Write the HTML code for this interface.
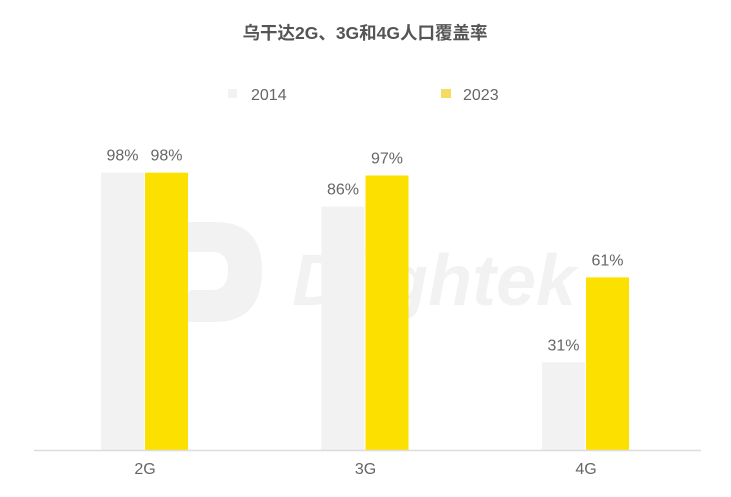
<!DOCTYPE html>
<html><head><meta charset="utf-8"><style>
html,body{margin:0;padding:0;background:#fff;}
body{width:731px;height:492px;overflow:hidden;font-family:"Liberation Sans","Noto Sans CJK SC",sans-serif;}
</style></head><body>
<svg id="chart" width="731" height="492" xmlns="http://www.w3.org/2000/svg">
<text x="365" y="39" text-anchor="middle" font-size="17.5" font-weight="bold" fill="#555" font-family="Liberation Sans, Noto Sans CJK SC, sans-serif">乌干达2G、3G和4G人口覆盖率</text>
<g>
<rect x="228" y="89" width="9" height="9" fill="#f2f2f2"/>
<text x="251" y="100" font-size="16" fill="#666">2014</text>
<rect x="441" y="89" width="10" height="9" fill="#f5dc60"/>
<text x="463" y="100" font-size="16" fill="#666">2023</text>
</g>
<g fill="#000" fill-opacity="0.05">
<path d="M150 222 L215 222 Q262 222 262 270 Q262 322 215 322 L175 322 L190 290 L212 290 Q228 290 228 270 Q228 252 212 252 L165 252 Z"/>
<text x="292" y="305" font-size="72" font-weight="bold" font-style="italic">Dlightek</text>
</g>
<g id="bars"></g>
<line x1="34" y1="450.5" x2="701" y2="450.5" stroke="#dcdcdc" stroke-width="1.5"/>
</svg>
<script>
const categories = ["2G","3G","4G"];
const series2014 = [98,86,31];
const series2023 = [98,97,61];
const ns="http://www.w3.org/2000/svg";
const base=450, scale=2.83, x0=145, step=220.5, bw=43;
const y=v=>base-v*scale;
const g=document.getElementById('bars');
function mk(tag,attrs){const e=document.createElementNS(ns,tag);for(const k in attrs)e.setAttribute(k,attrs[k]);g.appendChild(e);return e;}
categories.forEach((c,i)=>{
  const cx=x0+i*step;
  [[series2014,'#f2f2f2',cx-bw-1,'2014'],[series2023,'#fbe000',cx,'2023']].forEach(([s,col,x,yr])=>{
    const v=s[i];
    const r=mk('rect',{x:x,y:y(v),width:bw,height:base-y(v),fill:col});
    
    
    const t=mk('text',{x:x+bw/2,y:y(v)-12,'text-anchor':'middle','font-size':'16',fill:'#666'});
    t.textContent=v+'%';
    
    
  });
  const l=mk('text',{x:cx,y:474,'text-anchor':'middle','font-size':'16',fill:'#666'});
  l.textContent=c;
  
  
});
</script>
</body></html>
